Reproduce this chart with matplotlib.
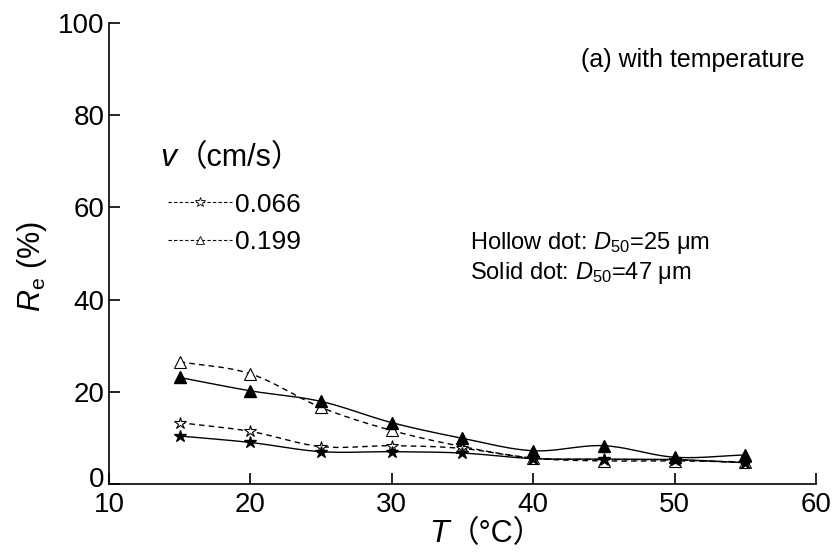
import matplotlib
matplotlib.use("Agg")
import matplotlib.pyplot as plt
import numpy as np
from matplotlib.lines import Line2D
from matplotlib.transforms import ScaledTranslation

plt.rcParams['font.family'] = ['Liberation Sans', 'Noto Sans CJK SC']
plt.rcParams['mathtext.fontset'] = 'custom'
plt.rcParams['mathtext.rm'] = 'Liberation Sans'
plt.rcParams['mathtext.it'] = 'Liberation Sans:italic'

# temperature (°C)
T = [15, 20, 25, 30, 35, 40, 45, 50, 55]
# D50 = 25 um (hollow) / 47 um (solid), two velocities
hollow_066 = [13.3, 11.4, 8.1, 8.3, 7.7, 5.6, 5.3, 5.2, 4.6]
hollow_199 = [26.5, 23.9, 16.6, 11.6, 8.1, 5.6, 5.0, 5.0, 4.8]
solid_066 = [10.4, 9.0, 7.0, 7.0, 6.7, 5.5, 5.4, 5.3, 4.6]
solid_199 = [23.1, 20.2, 17.9, 13.3, 9.9, 7.2, 8.3, 5.8, 6.3]
legend_labels = ['0.066', '0.199']


def smooth(x, y, n=20):
    # Catmull-Rom curve through the points (like the spreadsheet smoothed line)
    x = np.asarray(x, float)
    y = np.asarray(y, float)
    px = np.concatenate([[2 * x[0] - x[1]], x, [2 * x[-1] - x[-2]]])
    py = np.concatenate([[2 * y[0] - y[1]], y, [2 * y[-1] - y[-2]]])
    xs, ys = [], []
    t = np.linspace(0, 1, n, endpoint=False)
    for i in range(1, len(px) - 2):
        for p, out in ((px, xs), (py, ys)):
            p0, p1, p2, p3 = p[i - 1], p[i], p[i + 1], p[i + 2]
            out.extend(0.5 * (2 * p1 + (-p0 + p2) * t + (2 * p0 - 5 * p1 + 4 * p2 - p3) * t ** 2
                              + (-p0 + 3 * p1 - 3 * p2 + p3) * t ** 3))
    xs.append(x[-1])
    ys.append(y[-1])
    return xs, ys


fig = plt.figure(figsize=(8.36, 5.55), dpi=100)
ax = fig.add_axes([0.1304, 0.128, 0.8456, 0.8306])
renderer = fig.canvas.get_renderer()


def text_after(t1, s, **kw):
    # put s right after text t1 (italic symbol followed by full-width bracket)
    bb = t1.get_window_extent(renderer)
    x, y = t1.get_position()
    return fig.text(bb.x1 / fig.bbox.width, y, s, ha='left', va='center', **kw)


ax.plot(*smooth(T, solid_199), color='black', lw=1.0)
ax.plot(*smooth(T, solid_066), color='black', lw=1.0)
ax.plot(*smooth(T, hollow_199), color='black', lw=1.0, ls=(0, (4, 3)))
ax.plot(*smooth(T, hollow_066), color='black', lw=1.0, ls=(0, (4, 3)))

ax.plot(T, hollow_199, ls='none', marker='^', ms=8, mfc='white', mec='black', mew=0.8, zorder=3)
ax.plot(T, hollow_066, ls='none', marker='*', ms=9, mfc='white', mec='black', mew=0.8, zorder=3)
ax.plot(T, solid_199, ls='none', marker='^', ms=8, mfc='black', mec='black', zorder=4)
ax.plot(T, solid_066, ls='none', marker='*', ms=9, mfc='black', mec='black', zorder=4)

ax.set_xlim(10, 60)
ax.set_ylim(0, 100)
ax.set_xticks(range(10, 61, 10))
ax.set_yticks(range(0, 101, 20))
ax.spines['top'].set_visible(False)
ax.spines['right'].set_visible(False)
for s in ('left', 'bottom'):
    ax.spines[s].set_linewidth(1.2)
ax.tick_params(direction='in', length=8, width=1.2, labelsize=20, pad=3)
ax.tick_params(axis='x', pad=6)
# the "0" on the y axis sits a little above the x axis line
zero_lab = ax.yaxis.get_major_ticks()[0].label1
zero_lab.set_transform(zero_lab.get_transform() + ScaledTranslation(0, 5 / 72, fig.dpi_scale_trans))

# axis titles
fig.text(0.038, 0.52, r'$\mathit{R}_{\mathrm{e}}$ (%)', rotation=90, fontsize=22,
         ha='center', va='center')
t_lab = fig.text(0.537, 0.037, 'T', fontsize=23, style='italic', ha='right', va='center')
text_after(t_lab, '（°C）', fontsize=22)

ax.text(0.668, 0.92, '(a) with temperature', transform=ax.transAxes, fontsize=18,
        ha='left', va='center')
ax.text(0.510, 0.523, r'Hollow dot: $\mathit{D}_{\mathrm{50}}$=25 $\mathrm{\mu}$m',
        transform=ax.transAxes, fontsize=17, ha='left', va='center')
ax.text(0.510, 0.458, r'Solid dot: $\mathit{D}_{\mathrm{50}}$=47 $\mathrm{\mu}$m',
        transform=ax.transAxes, fontsize=17, ha='left', va='center')

# legend
v_lab = fig.text(0.211, 0.715, 'v', fontsize=23, style='italic', ha='right', va='center')
text_after(v_lab, '（cm/s）', fontsize=22)
handles = [
    Line2D([], [], color='black', lw=0.8, ls=(0, (3, 2)), marker='*', ms=7, mfc='white', mec='black', mew=0.6),
    Line2D([], [], color='black', lw=0.8, ls=(0, (3, 2)), marker='^', ms=6, mfc='white', mec='black', mew=0.6),
]
ax.legend(handles, legend_labels, loc='upper left', bbox_to_anchor=(0.068, 0.655),
          frameon=False, fontsize=19, handlelength=2.45, handletextpad=0.12,
          labelspacing=0.5, borderaxespad=0)

fig.savefig('out.png', dpi=100)
